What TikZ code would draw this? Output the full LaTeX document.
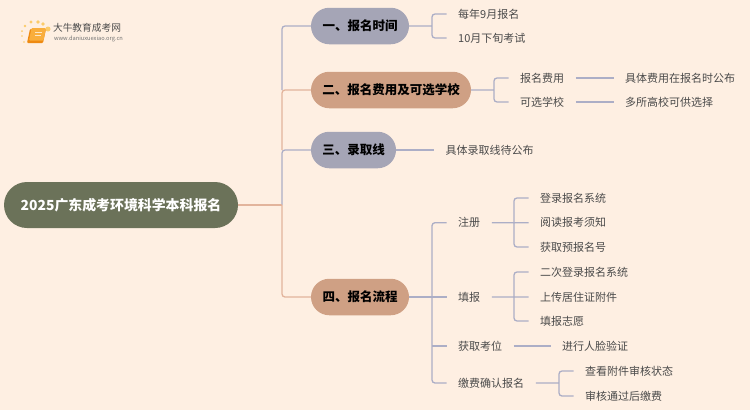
\documentclass[tikz,border=0pt]{standalone}
\usepackage{fontspec}
\setmainfont{Noto Sans CJK SC}
\usetikzlibrary{shapes.misc}
\definecolor{bgc}{HTML}{FEEFE2}
\definecolor{bluel}{HTML}{ACAEC6}
\definecolor{salm}{HTML}{E2B49C}
\definecolor{boxa}{HTML}{A5A5B6}
\definecolor{boxb}{HTML}{CFA084}
\definecolor{rootc}{HTML}{6B7259}
\definecolor{txt}{HTML}{4A4A4A}
\definecolor{dotc}{HTML}{FBCB6A}
\definecolor{bookd}{HTML}{EE8A12}
\definecolor{bookl}{HTML}{F9AE3C}
\tikzset{
  x=1pt,y=-1pt,
  link/.style={draw=bluel,line width=1.3pt,rounded corners=3pt},
  slink/.style={draw=salm,line width=1.3pt,rounded corners=3pt},
  pill/.style={rounded rectangle,inner sep=0pt,minimum height=36.5pt,text=black,font=\fontsize{12.5}{15}\selectfont\bfseries},
  leaf/.style={anchor=west,inner xsep=11.5pt,inner ysep=0pt,text=txt,font=\fontsize{11}{13}\selectfont},
}
\begin{document}
\begin{tikzpicture}
\fill[bgc] (0,0) rectangle (750,410);
\useasboundingbox (0,0) rectangle (750,410);
% logo
\foreach \px/\py/\r in {22/31/1,22/36/.9,24/42/.8,25/26/1.3,31/22/1.7,38/22/1.9,43/24/1.9,48/29/2.5}
  \fill[dotc] (\px,\py) circle (\r);
\fill[bookd,rounded corners=1pt] (27,43) -- (30,29) -- (46,29) -- (43,43) -- cycle;
\fill[bookl,rounded corners=1pt] (29,40.5) -- (31.5,28) -- (46,28) -- (43.5,40.5) -- cycle;
\draw[white!70!bookl,line width=.8pt] (35,32) -- (42,32) (34.5,35) -- (41,35);
\node[inner sep=0pt,text=black!70,font=\fontsize{9.7}{11}\selectfont] (logot) at (87,27.5) {大牛教育成考网};
\node[inner sep=0pt,text=black!55,font=\fontsize{5.7}{7}\selectfont] (logou) at (88.5,39) {www.daniuxuexiao.org.cn};
% nodes
\node[rounded rectangle,fill=rootc,inner sep=0pt,minimum width=234pt,minimum height=46pt,text=white,font=\fontsize{13.9}{16}\selectfont\bfseries] (root) at (121,205) {2025广东成考环境科学本科报名};
\node[pill,fill=boxa,minimum width=98pt] (n1) at (360,26) {一、报名时间};
\node[pill,fill=boxb,minimum width=160pt] (n2) at (391,90) {二、报名费用及可选学校};
\node[pill,fill=boxa,minimum width=85pt] (n3) at (353.5,150) {三、录取线};
\node[pill,fill=boxb,minimum width=98pt] (n4) at (360,297) {四、报名流程};
\node[leaf] (a1) at (446.5,14) {每年9月报名};
\node[leaf] (a2) at (446.5,38) {10月下旬考试};
\node[leaf] (b1) at (508.5,78) {报名费用};
\node[leaf] (b2) at (508.5,102) {可选学校};
\node[leaf] (b1x) at (613.5,78) {具体费用在报名时公布};
\node[leaf] (b2x) at (613.5,102) {多所高校可供选择};
\node[leaf] (c1) at (434,150) {具体录取线待公布};
\node[leaf] (d1) at (446.5,222.7) {注册};
\node[leaf] (d2) at (446.5,297) {填报};
\node[leaf] (d3) at (446.5,346) {获取考位};
\node[leaf] (d4) at (446.5,383) {缴费确认报名};
\node[leaf] (e1) at (528.5,198) {登录报名系统};
\node[leaf] (e2) at (528.5,222.7) {阅读报考须知};
\node[leaf] (e3) at (528.5,247) {获取预报名号};
\node[leaf] (f1) at (528.5,272) {二次登录报名系统};
\node[leaf] (f2) at (528.5,297) {上传居住证附件};
\node[leaf] (f3) at (528.5,321) {填报志愿};
\node[leaf] (g1) at (550.5,346) {进行人脸验证};
\node[leaf] (h1) at (573.5,371) {查看附件审核状态};
\node[leaf] (h2) at (573.5,396) {审核通过后缴费};
% junctions
\coordinate (s) at (282,205);
\coordinate (j1) at (432,26);
\coordinate (j2) at (494,90);
\coordinate (j4) at (432,297);
\coordinate (jd1) at (514,222.7);
\coordinate (jd2) at (514,297);
\coordinate (jd4) at (559,383);
% main connectors
\draw[link] (s) |- (n3.west);
\draw[link] (n1.west) -| (s |- n2.west);
\draw[slink] (n2.west) -| (s |- n3.west);
\draw[slink] (root.east) -- (s);
\draw[slink] (s) |- (n4.west);
% branches
\draw[link] (n1.east) -- (j1) (a1.west) -| (j1) |- (a2.west);
\draw[link] (n2.east) -- (j2) (b1.west) -| (j2) |- (b2.west);
\draw[link] (b1.east) -- (b1x.west);
\draw[link] (b2.east) -- (b2x.west);
\draw[link] (n3.east) -- (c1.west);
\draw[link] (n4.east) -- (d2.west);
\draw[link] (d1.west) -| (j4) |- (d4.west);
\draw[link] (j4 |- d3.west) -- (d3.west);
\draw[link] (d1.east) -- (e2.west) (e1.west) -| (jd1) |- (e3.west);
\draw[link] (d2.east) -- (f2.west) (f1.west) -| (jd2) |- (f3.west);
\draw[link] (d3.east) -- (g1.west);
\draw[link] (d4.east) -- (jd4) (h1.west) -| (jd4) |- (h2.west);
\end{tikzpicture}
\end{document}
